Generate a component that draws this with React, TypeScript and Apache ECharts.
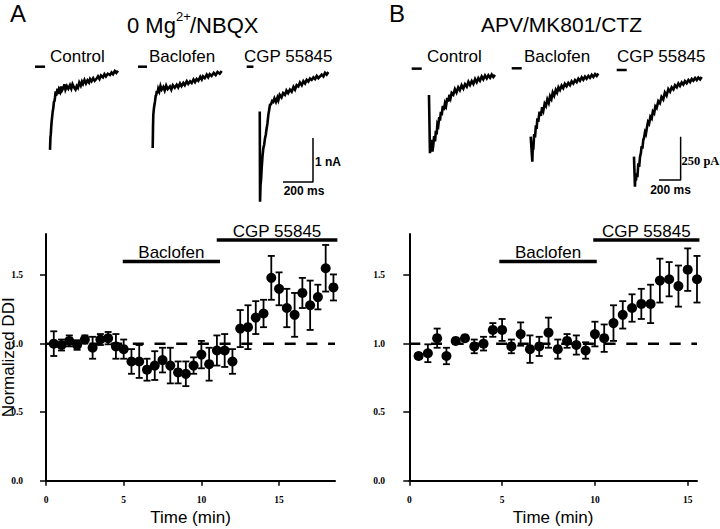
import React, { useEffect, useRef } from 'react';
import * as echarts from 'echarts';

const SANS = '"Liberation Sans", Arial, sans-serif';
const SERIF = '"Liberation Serif", "Times New Roman", serif';

// ---------- Panel A (0 Mg2+/NBQX) ----------
const timeA = [0.5, 1, 1.5, 2, 2.5, 3, 3.5, 4, 4.5, 5, 5.5, 6, 6.5, 7, 7.5, 8, 8.5, 9, 9.5, 10, 10.5, 11, 11.5, 12, 12.5, 13, 13.5, 14, 14.5, 15, 15.5, 16, 16.5, 17, 17.5, 18, 18.5];
const meanA = [1.0, 0.99, 1.02, 0.99, 1.03, 0.97, 1.03, 1.04, 0.98, 0.96, 0.87, 0.87, 0.81, 0.84, 0.88, 0.84, 0.79, 0.78, 0.84, 0.92, 0.85, 0.95, 0.95, 0.87, 1.11, 1.12, 1.19, 1.22, 1.48, 1.4, 1.26, 1.21, 1.37, 1.28, 1.34, 1.55, 1.41];
const semA = [0.09, 0.04, 0.04, 0.035, 0.03, 0.08, 0.04, 0.045, 0.09, 0.07, 0.09, 0.12, 0.08, 0.105, 0.09, 0.13, 0.08, 0.09, 0.06, 0.1, 0.12, 0.11, 0.12, 0.09, 0.135, 0.16, 0.12, 0.1, 0.16, 0.12, 0.14, 0.16, 0.11, 0.18, 0.09, 0.17, 0.095];
const baclofenA = [4.94, 11.2];
const cgpA = [10.99, 18.75];

// ---------- Panel B (APV/MK801/CTZ) ----------
const timeB = [0.5, 1, 1.5, 2, 2.5, 3, 3.5, 4, 4.5, 5, 5.5, 6, 6.5, 7, 7.5, 8, 8.5, 9, 9.5, 10, 10.5, 11, 11.5, 12, 12.5, 13, 13.5, 14, 14.5, 15, 15.5];
const meanB = [0.91, 0.93, 1.04, 0.91, 1.02, 1.04, 0.98, 1.0, 1.1, 1.1, 0.98, 1.07, 0.96, 0.98, 1.08, 0.96, 1.02, 0.99, 0.95, 1.07, 1.04, 1.15, 1.21, 1.26, 1.29, 1.29, 1.46, 1.47, 1.42, 1.54, 1.47];
const semB = [0.02, 0.065, 0.07, 0.06, 0.02, 0.015, 0.05, 0.05, 0.05, 0.08, 0.05, 0.085, 0.1, 0.07, 0.11, 0.07, 0.05, 0.07, 0.06, 0.09, 0.1, 0.13, 0.1, 0.1, 0.11, 0.14, 0.16, 0.125, 0.15, 0.155, 0.17];
const baclofenB = [4.85, 10.1];
const cgpB = [9.91, 15.63];

const drugLevels = { baclofen: 1.6, cgp: 1.757 };
const baselineLevel = 1.0;
const yTicks = [0, 0.5, 1, 1.5];
const xTicks = [0, 5, 10, 15];

// ---------- Current traces, panel A (ms, nA) ----------
const stubAControl = [[0, 0], [67, 0]];
const traceAControl = [[100, -1.89], [103, -1.6], [105, -1.55], [108, -1.38], [111, -1.25], [115, -1.12], [118, -1.02], [122, -0.94], [126, -0.8], [130, -0.78], [133, -0.71], [138, -0.56], [141, -0.66], [145, -0.6], [150, -0.5], [155, -0.62], [160, -0.52], [167, -0.57], [173, -0.45], [180, -0.54], [189, -0.48], [196, -0.4], [203, -0.52], [212, -0.44], [222, -0.5], [233, -0.42], [242, -0.5], [250, -0.4], [260, -0.47], [270, -0.52], [278, -0.44], [286, -0.48], [295, -0.36], [305, -0.43], [313, -0.34], [320, -0.39], [330, -0.3], [340, -0.38], [350, -0.31], [360, -0.36], [367, -0.28], [377, -0.33], [388, -0.26], [398, -0.32], [411, -0.27], [420, -0.22], [430, -0.28], [440, -0.2], [453, -0.24], [463, -0.17], [473, -0.22], [485, -0.16], [500, -0.19], [510, -0.13], [520, -0.17], [532, -0.1], [542, -0.14], [553, -0.09]];
const stubABaclofen = [[0, 0], [60, 0]];
const traceABaclofen = [[98, -1.85], [100, -1.4], [102, -1.1], [106, -0.95], [110, -0.86], [113, -0.8], [118, -0.66], [122, -0.64], [125, -0.55], [130, -0.6], [135, -0.5], [142, -0.56], [150, -0.44], [158, -0.52], [169, -0.46], [178, -0.54], [188, -0.43], [198, -0.51], [213, -0.45], [222, -0.52], [232, -0.42], [245, -0.48], [258, -0.41], [268, -0.47], [280, -0.38], [290, -0.44], [302, -0.37], [312, -0.42], [325, -0.33], [335, -0.39], [347, -0.33], [358, -0.37], [370, -0.29], [380, -0.35], [391, -0.28], [402, -0.32], [415, -0.23], [425, -0.29], [433, -0.22], [445, -0.26], [458, -0.18], [468, -0.24], [478, -0.17], [490, -0.21], [505, -0.14], [518, -0.19], [530, -0.12], [545, -0.16], [558, -0.1]];
const stubACgp = [[0, 0], [45, 0]];
const traceACgp = [[87, -1.02], [89, -3.07], [92, -2.7], [96, -2.55], [100, -2.3], [105, -2.05], [111, -1.85], [116, -1.78], [122, -1.63], [127, -1.55], [133, -1.4], [138, -1.3], [144, -1.1], [150, -0.98], [155, -0.87], [162, -0.85], [170, -0.78], [177, -0.8], [185, -0.72], [195, -0.8], [205, -0.7], [211, -0.76], [220, -0.64], [232, -0.7], [243, -0.6], [255, -0.64], [265, -0.54], [276, -0.6], [288, -0.52], [300, -0.57], [312, -0.46], [322, -0.52], [333, -0.42], [344, -0.45], [355, -0.36], [367, -0.42], [378, -0.33], [389, -0.38], [400, -0.3], [411, -0.34], [422, -0.27], [433, -0.3], [445, -0.24], [456, -0.28], [467, -0.21], [478, -0.26], [489, -0.22], [500, -0.18], [511, -0.22], [522, -0.14], [533, -0.18], [544, -0.12]];
const scaleBarA = [[242, -2.62], [442, -2.62], [442, -1.62]]; // 200 ms, 1 nA

// ---------- Current traces, panel B (ms, pA) ----------
const stubBControl = [[0, 0], [93, 0]];
const traceBControl = [[160, -152], [169, -489], [175, -420], [180, -460], [185, -412], [192, -480], [200, -440], [208, -390], [216, -420], [224, -360], [231, -380], [238, -320], [246, -330], [255, -280], [262, -300], [270, -250], [278, -270], [288, -215], [298, -240], [308, -200], [318, -215], [329, -170], [339, -190], [350, -150], [360, -170], [370, -140], [385, -150], [400, -118], [415, -138], [431, -108], [446, -124], [462, -96], [478, -115], [494, -90], [510, -104], [525, -76], [540, -94], [556, -72], [571, -88], [587, -60], [602, -78], [617, -55], [632, -70], [648, -45], [663, -62], [679, -40], [695, -56], [710, -38], [726, -52], [741, -34], [756, -48], [771, -36]];
const stubBBaclofen = [[0, 0], [93, 0]];
const traceBBaclofen = [[176, -395], [191, -540], [196, -430], [200, -470], [208, -380], [216, -400], [224, -330], [231, -350], [238, -290], [246, -310], [258, -250], [270, -275], [282, -225], [293, -245], [305, -205], [317, -218], [330, -180], [343, -200], [355, -162], [368, -178], [380, -140], [393, -158], [408, -125], [420, -140], [433, -110], [447, -125], [462, -100], [477, -115], [492, -90], [508, -104], [524, -84], [540, -97], [555, -75], [570, -88], [586, -68], [602, -80], [617, -60], [632, -72], [648, -52], [663, -66], [679, -48], [694, -60], [710, -44], [725, -55], [741, -38], [756, -50], [772, -34], [787, -44], [802, -30]];
const stubBCgp = [[0, 0], [93, 0]];
const traceBCgp = [[160, -501], [169, -675], [174, -600], [178, -640], [185, -597], [192, -620], [200, -540], [208, -560], [216, -501], [224, -480], [231, -440], [238, -455], [246, -405], [254, -390], [262, -360], [270, -370], [278, -340], [290, -300], [300, -310], [312, -270], [324, -280], [335, -240], [347, -250], [358, -210], [370, -220], [385, -180], [400, -192], [415, -155], [431, -170], [446, -130], [462, -148], [478, -110], [494, -125], [509, -100], [525, -112], [540, -88], [556, -100], [571, -78], [586, -92], [602, -72], [617, -84], [632, -64], [648, -76], [664, -58], [680, -70], [695, -52], [710, -62], [726, -46], [741, -58], [756, -44], [772, -54], [787, -40]];
const scaleBarB = [[392, -636], [592, -636], [592, -386]]; // 200 ms, 250 pA

function buildOption() {
  const grids: any[] = [];
  const xAxes: any[] = [];
  const yAxes: any[] = [];
  const series: any[] = [];

  const panels = [
    { time: timeA, mean: meanA, sem: semA, xMax: 18.6, bac: baclofenA, cgp: cgpA, rect: { left: 46, top: 234, width: 289, height: 246.7 }, yName: 'Normalized DDI', labelMargin: 23 },
    { time: timeB, mean: meanB, sem: semB, xMax: 15.5, bac: baclofenB, cgp: cgpB, rect: { left: 409.3, top: 234, width: 287.7, height: 246.7 }, yName: '', labelMargin: 24.3 },
  ];

  panels.forEach((p, i) => {
    grids.push({ ...p.rect, containLabel: false, outerBoundsMode: 'none' });
    xAxes.push({
      gridIndex: i, type: 'value', min: 0, max: p.xMax,
      name: 'Time (min)', nameLocation: 'middle', nameGap: 28, nameMoveOverlap: false,
      nameTextStyle: { fontFamily: SANS, fontSize: 17, color: '#000' },
      axisLine: { lineStyle: { color: '#000', width: 2 } },
      axisTick: { show: true, length: 5, lineStyle: { color: '#000', width: 1.5 }, customValues: xTicks },
      axisLabel: { customValues: xTicks, margin: 14.3, fontFamily: SERIF, fontSize: 9.5, fontWeight: 'bold', color: '#000' },
      splitLine: { show: false },
    });
    yAxes.push({
      gridIndex: i, type: 'value', min: 0, max: 1.8,
      name: p.yName, nameLocation: 'middle', nameGap: 29, nameMoveOverlap: false,
      nameTextStyle: { fontFamily: SANS, fontSize: 17, color: '#000' },
      axisLine: { show: true, lineStyle: { color: '#000', width: 2 } },
      axisTick: { show: true, length: 6, lineStyle: { color: '#000', width: 1.5 }, customValues: yTicks },
      axisLabel: { customValues: yTicks, margin: p.labelMargin, fontFamily: SERIF, fontSize: 9.5, fontWeight: 'bold', color: '#000', formatter: (v: number) => v.toFixed(1) },
      splitLine: { show: false },
    });
    // dashed baseline
    series.push({
      type: 'line', xAxisIndex: i, yAxisIndex: i, symbol: 'none', silent: true, z: 1,
      data: [[0, baselineLevel], [p.xMax, baselineLevel]],
      lineStyle: { color: '#000', width: 2.5, type: [11, 10.7] },
    });
    // drug application bars
    const bars = [
      { name: 'Baclofen', span: p.bac, level: drugLevels.baclofen },
      { name: 'CGP 55845', span: p.cgp, level: drugLevels.cgp },
    ];
    bars.forEach((b) => {
      series.push({
        type: 'line', xAxisIndex: i, yAxisIndex: i, symbol: 'none', silent: true, clip: false,
        data: [[b.span[0], b.level], [b.span[1], b.level]],
        lineStyle: { color: '#000', width: 3.5 },
      });
      series.push({
        type: 'scatter', xAxisIndex: i, yAxisIndex: i, symbolSize: 0, silent: true, clip: false,
        itemStyle: { opacity: 1, color: '#000' },
        data: [{ name: b.name, value: [(b.span[0] + b.span[1]) / 2, b.level] }],
        label: { show: true, position: 'top', distance: 0, formatter: '{b}', fontFamily: SANS, fontSize: 17, color: '#000', opacity: 1 },
      });
    });
    // error bars
    series.push({
      type: 'custom', xAxisIndex: i, yAxisIndex: i, silent: true, z: 2,
      data: p.time.map((t, k) => [t, p.mean[k], p.sem[k]]),
      encode: { x: 0, y: 1 },
      renderItem: (params: any, api: any) => {
        const x = api.value(0);
        const y = api.value(1);
        const e = api.value(2);
        const top = api.coord([x, y + e]);
        const bot = api.coord([x, y - e]);
        const hw = 3.5;
        const st = { stroke: '#000', lineWidth: 1.8 };
        return {
          type: 'group',
          children: [
            { type: 'line', shape: { x1: top[0], y1: top[1], x2: bot[0], y2: bot[1] }, style: st },
            { type: 'line', shape: { x1: top[0] - hw, y1: top[1], x2: top[0] + hw, y2: top[1] }, style: st },
            { type: 'line', shape: { x1: bot[0] - hw, y1: bot[1], x2: bot[0] + hw, y2: bot[1] }, style: st },
          ],
        };
      },
    });
    // mean points
    series.push({
      type: 'scatter', xAxisIndex: i, yAxisIndex: i, symbol: 'circle', symbolSize: 10, z: 3, silent: true,
      itemStyle: { color: '#000', opacity: 1 },
      data: p.time.map((t, k) => [t, p.mean[k]]),
    });
  });

  // trace insets
  const traceSets = [
    { stub: stubAControl, trace: traceAControl, rect: { left: 35, top: 57.9, width: 90, height: 149.6 }, x: [0, 600], y: [-3.2, 0.2] },
    { stub: stubABaclofen, trace: traceABaclofen, rect: { left: 138, top: 57.9, width: 90, height: 149.6 }, x: [0, 600], y: [-3.2, 0.2] },
    { stub: stubACgp, trace: traceACgp, rect: { left: 246.7, top: 57.9, width: 90, height: 149.6 }, x: [0, 600], y: [-3.2, 0.2], bar: scaleBarA },
    { stub: stubBControl, trace: traceBControl, rect: { left: 411.7, top: 60, width: 88.56, height: 133.2 }, x: [0, 820], y: [-720, 50] },
    { stub: stubBBaclofen, trace: traceBBaclofen, rect: { left: 511.7, top: 59.65, width: 88.56, height: 133.2 }, x: [0, 820], y: [-720, 50] },
    { stub: stubBCgp, trace: traceBCgp, rect: { left: 616.7, top: 61.35, width: 88.56, height: 133.2 }, x: [0, 820], y: [-720, 50], bar: scaleBarB },
  ];
  traceSets.forEach((s, j) => {
    const gi = 2 + j;
    grids.push({ ...s.rect, containLabel: false, outerBoundsMode: 'none' });
    xAxes.push({ gridIndex: gi, type: 'value', min: s.x[0], max: s.x[1], show: false });
    yAxes.push({ gridIndex: gi, type: 'value', min: s.y[0], max: s.y[1], show: false });
    series.push({
      type: 'line', xAxisIndex: gi, yAxisIndex: gi, symbol: 'none', silent: true, clip: false,
      data: s.stub, lineStyle: { color: '#000', width: 2.5 },
    });
    series.push({
      type: 'line', xAxisIndex: gi, yAxisIndex: gi, symbol: 'none', silent: true, clip: false,
      data: s.trace, lineStyle: { color: '#000', width: 2.6, join: 'miter' },
    });
    if (s.bar) {
      series.push({
        type: 'line', xAxisIndex: gi, yAxisIndex: gi, symbol: 'none', silent: true, clip: false,
        data: s.bar, lineStyle: { color: '#000', width: 1.5 },
      });
    }
  });

  const txt = (text: string, x: number, y: number, fontSize: number, extra: any = {}) => ({
    type: 'text', x, y, silent: true,
    style: {
      text, fontSize, fontFamily: SANS, fill: '#000',
      align: 'left', verticalAlign: 'middle', textAlign: 'left', textVerticalAlign: 'middle',
      ...extra,
    },
  });

  const graphic = [
    txt('A', 10, 13.5, 24),
    txt('B', 389, 13.5, 24),
    txt('0 Mg', 127, 25.8, 22),
    txt('2+', 176, 16.5, 13),
    txt('/NBQX', 190, 25.8, 22),
    txt('APV/MK801/CTZ', 561.5, 24.2, 21, { align: 'center', textAlign: 'center' }),
    txt('Control', 50, 56.5, 17),
    txt('Baclofen', 149, 56.5, 17),
    txt('CGP 55845', 244, 56.5, 17),
    txt('Control', 427, 56.3, 17),
    txt('Baclofen', 524, 56.3, 17),
    txt('CGP 55845', 617, 56.3, 17),
    txt('1 nA', 315, 161.7, 12, { fontWeight: 'bold' }),
    txt('200 ms', 304, 191, 12, { fontWeight: 'bold', align: 'center', textAlign: 'center' }),
    txt('250 pA', 681.5, 160.8, 12.5, { fontWeight: 'bold', fontFamily: SERIF }),
    txt('200 ms', 670.5, 189.5, 12, { fontWeight: 'bold', align: 'center', textAlign: 'center' }),
  ];

  return {
    animation: false,
    backgroundColor: '#fff',
    grid: grids,
    xAxis: xAxes,
    yAxis: yAxes,
    series,
    graphic,
  };
}

export default function App() {
  const ref = useRef<HTMLDivElement>(null);
  useEffect(() => {
    if (!ref.current) return;
    const chart = echarts.init(ref.current, null, { renderer: 'svg' });
    chart.setOption(buildOption() as any);
    return () => chart.dispose();
  }, []);
  return (
    <div
      ref={ref}
      style={{ position: 'fixed', left: 0, top: 0, width: 720, height: 529, background: '#fff' }}
    />
  );
}
